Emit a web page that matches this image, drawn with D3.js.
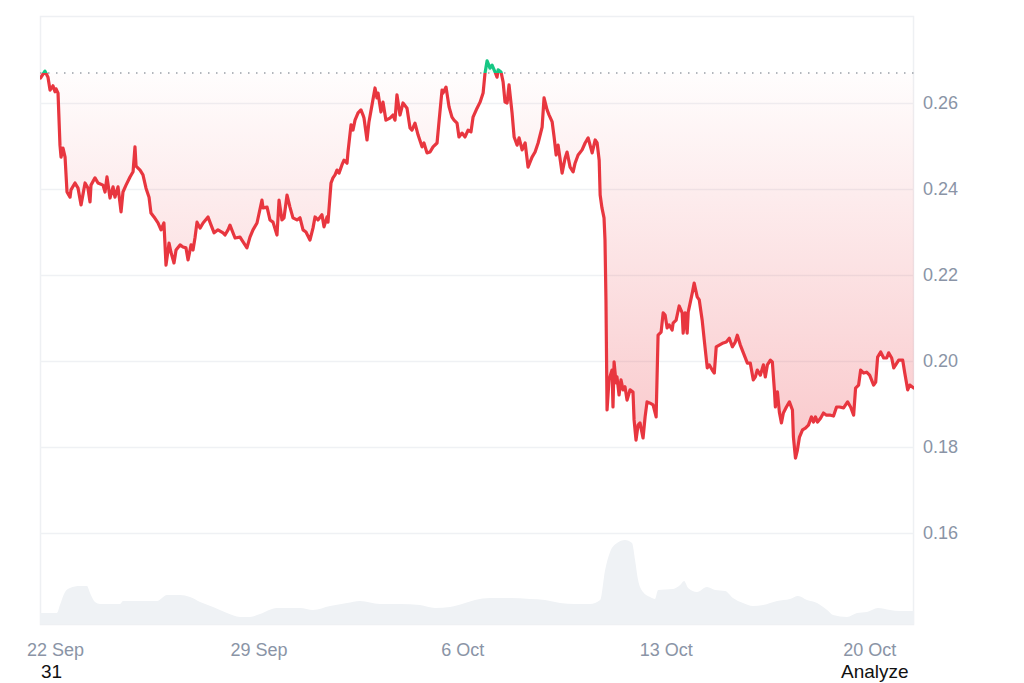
<!DOCTYPE html>
<html><head><meta charset="utf-8">
<script src="https://cdn.jsdelivr.net/npm/d3@7"></script>
<style>
body{margin:0;background:#fff}
svg text{font-family:"Liberation Sans",Arial,Helvetica,sans-serif}
</style>
</head><body>
<svg id="chart" width="1024" height="683"></svg>
<script>
// ---------- data ----------
const seriesStart = new Date(2025, 8, 21, 12, 0);   // hour 0 of the series
const domainStart = new Date(2025, 8, 21, 11, 37);
const domainEnd   = new Date(2025, 9, 21, 12, 55);
const referencePrice = 0.267;
const yTicks = [0.16, 0.18, 0.20, 0.22, 0.24, 0.26];
const xTickDates = [new Date(2025,8,22), new Date(2025,8,29), new Date(2025,9,6), new Date(2025,9,13), new Date(2025,9,20)];
const xTickLabels = ["22 Sep", "29 Sep", "6 Oct", "13 Oct", "20 Oct"];
const yDomain = [0.138837, 0.280233];

const priceHours = [
0.0,3.7,6.2,7.9,10.3,12.0,12.8,14.5,16.1,17.0,
18.6,20.3,21.9,24.4,25.2,28.5,31.0,33.5,36.8,39.2,
40.9,41.7,45.0,47.5,51.6,53.3,54.9,57.4,59.9,61.5,
64.0,66.5,68.1,70.6,73.9,76.4,78.0,78.9,82.2,84.6,
87.1,89.6,91.2,93.7,97.0,99.5,101.9,103.6,106.1,107.7,
110.2,111.9,115.2,117.6,120.1,121.8,124.3,125.9,127.6,129.2,
131.7,134.2,138.3,140.8,143.3,146.5,150.7,152.3,154.8,156.4,
160.6,164.7,167.2,170.4,172.9,175.4,178.7,182.8,183.7,187.0,
189.4,191.9,195.2,196.9,199.3,201.0,203.5,205.9,208.4,211.7,
214.2,216.7,219.1,222.4,224.9,226.6,229.0,232.3,234.0,236.5,
237.3,239.8,241.4,243.1,244.7,246.4,248.8,250.5,253.0,253.8,
256.3,257.9,259.6,262.1,264.5,266.2,267.0,269.5,271.1,273.6,
276.1,277.7,278.6,281.0,282.7,285.1,288.4,290.9,292.6,294.2,
296.7,299.2,302.5,305.0,306.6,309.1,311.6,314.9,316.5,319.0,
321.5,324.0,327.3,328.9,331.4,332.2,334.7,337.2,339.6,341.3,
343.8,345.4,347.9,350.4,352.9,355.3,357.0,360.3,362.8,365.3,
366.9,368.6,371.0,372.7,375.2,376.8,377.7,380.1,381.8,383.4,
385.1,386.7,389.2,390.9,393.4,395.0,397.5,400.0,402.4,405.7,
408.2,410.7,414.0,415.6,418.1,419.8,422.3,423.9,425.6,427.2,
430.5,433.0,434.6,437.1,439.6,441.2,443.7,447.0,449.5,452.0,
455.3,457.8,459.4,461.1,461.9,463.4,465.1,465.9,466.7,467.6,
469.2,471.7,472.5,473.4,475.0,475.8,477.5,479.1,480.8,482.4,
484.1,486.6,489.0,489.9,491.5,493.2,494.8,497.3,499.0,500.6,
503.1,505.6,508.1,509.7,512.2,513.9,515.5,517.2,518.8,521.3,
522.1,524.6,525.5,527.1,529.6,530.4,532.1,533.7,534.6,536.2,
537.9,539.5,542.0,543.7,546.1,547.8,550.3,551.9,554.4,556.1,
557.7,560.2,563.5,566.0,568.5,571.0,573.4,575.1,577.6,580.1,
583.4,585.8,588.3,590.0,591.6,594.1,596.6,598.2,599.9,602.4,
604.0,605.7,606.5,608.2,609.8,611.5,613.1,615.6,618.1,620.6,
621.4,623.1,624.7,626.4,628.9,631.3,633.8,636.3,638.0,639.6,
641.3,643.8,646.2,648.7,652.0,654.5,657.0,659.5,662.8,666.1,
668.6,671.1,672.7,675.2,676.9,679.4,681.8,684.3,687.6,689.3,
690.9,693.4,695.9,698.4,700.0,702.5,704.2,705.8,708.3,711.6,
713.3,715.7,717.4,720.7];

const prices = [
0.2658,0.2674,0.2660,0.2630,0.2640,0.2626,0.2633,0.2623,0.2502,0.2474,
0.2495,0.2474,0.2393,0.2381,0.2398,0.2414,0.2402,0.2363,0.2414,0.2402,
0.2370,0.2409,0.2426,0.2414,0.2409,0.2393,0.2428,0.2379,0.2405,0.2381,
0.2405,0.2347,0.2393,0.2409,0.2428,0.2440,0.2498,0.2453,0.2444,0.2433,
0.2402,0.2381,0.2344,0.2335,0.2321,0.2305,0.2321,0.2223,0.2274,0.2253,
0.2228,0.2258,0.2270,0.2265,0.2263,0.2235,0.2270,0.2258,0.2288,0.2323,
0.2309,0.2321,0.2335,0.2316,0.2298,0.2305,0.2298,0.2293,0.2305,0.2316,
0.2286,0.2288,0.2277,0.2263,0.2288,0.2305,0.2321,0.2374,0.2356,0.2358,
0.2328,0.2323,0.2293,0.2374,0.2328,0.2333,0.2386,0.2358,0.2333,0.2328,
0.2333,0.2305,0.2300,0.2281,0.2309,0.2335,0.2328,0.2340,0.2312,0.2335,
0.2323,0.2414,0.2426,0.2433,0.2444,0.2437,0.2456,0.2467,0.2460,0.2486,
0.2549,0.2537,0.2560,0.2577,0.2584,0.2572,0.2565,0.2514,0.2556,0.2595,
0.2635,0.2612,0.2623,0.2579,0.2602,0.2560,0.2565,0.2572,0.2560,0.2619,
0.2572,0.2600,0.2588,0.2542,0.2537,0.2553,0.2526,0.2498,0.2507,0.2484,
0.2486,0.2498,0.2507,0.2556,0.2630,0.2623,0.2637,0.2591,0.2567,0.2560,
0.2553,0.2521,0.2530,0.2521,0.2537,0.2533,0.2567,0.2588,0.2602,0.2623,
0.2670,0.2698,0.2681,0.2688,0.2672,0.2660,0.2677,0.2672,0.2649,0.2602,
0.2600,0.2642,0.2577,0.2521,0.2502,0.2519,0.2491,0.2507,0.2451,0.2474,
0.2486,0.2507,0.2544,0.2612,0.2584,0.2572,0.2556,0.2521,0.2479,0.2502,
0.2437,0.2472,0.2486,0.2451,0.2440,0.2460,0.2479,0.2491,0.2507,0.2519,
0.2484,0.2514,0.2507,0.2467,0.2386,0.2356,0.2333,0.2281,0.2142,0.1886,
0.1956,0.1979,0.1893,0.1998,0.1949,0.1963,0.1921,0.1956,0.1933,0.1940,
0.1909,0.1933,0.1928,0.1863,0.1816,0.1851,0.1856,0.1821,0.1870,0.1905,
0.1902,0.1898,0.1870,0.2060,0.2067,0.2112,0.2107,0.2077,0.2084,0.2072,
0.2088,0.2095,0.2107,0.2128,0.2112,0.2065,0.2112,0.2065,0.2114,0.2135,
0.2158,0.2181,0.2149,0.2142,0.2095,0.2049,0.1984,0.1991,0.1979,0.1972,
0.2033,0.2037,0.2042,0.2044,0.2053,0.2033,0.2044,0.2060,0.2037,0.2019,
0.1995,0.1995,0.1956,0.1963,0.1979,0.1967,0.1991,0.1963,0.1991,0.2002,
0.1998,0.1933,0.1893,0.1928,0.1881,0.1856,0.1879,0.1893,0.1905,0.1886,
0.1823,0.1774,0.1793,0.1823,0.1840,0.1844,0.1851,0.1870,0.1858,0.1870,
0.1858,0.1867,0.1879,0.1874,0.1874,0.1872,0.1893,0.1893,0.1891,0.1905,
0.1893,0.1874,0.1937,0.1944,0.1979,0.1972,0.1974,0.1967,0.1944,0.1951,
0.2009,0.2021,0.2007,0.2007,0.2019,0.2007,0.1984,0.1991,0.2002,0.2002,
0.1972,0.1933,0.1944,0.1937];

const volumeHours = [
-0.4,13.6,16.1,20.3,24.4,32.6,38.4,40.9,45.0,49.2,
65.7,68.1,96.2,104.4,115.2,123.4,131.7,142.4,153.9,164.7,
172.9,181.2,195.2,214.2,224.9,239.0,253.0,263.7,280.2,296.7,
313.2,325.6,338.0,350.4,358.6,371.0,387.5,404.0,416.4,428.8,
441.2,453.5,461.9,466.0,470.1,475.8,482.4,488.2,490.7,493.2,
497.3,503.1,507.2,509.7,522.1,527.9,531.2,534.5,541.8,550.1,
556.7,565.0,571.5,579.8,588.1,596.4,607.9,618.6,625.2,632.6,
640.9,649.2,654.1,665.6,673.9,682.1,691.2,701.1,709.4,719.3,721.0];
const volumes = [
11,11,19,32,36,38,38,31,22,20,
20,23,23,29,29,27,22,17,11,7,
7,10,16,16,14,18,21,23,20,20,
19,16,17,21,24,26,26,25,24,21,
20,20,24,54,72,81,84,81,64,44,
32,27,25,34,35,39,43,36,32,37,
34,33,26,21,18,19,23,25,28,24,
21,14,9,7,11,12,16,14,13,13,13];

// ---------- layout ----------
const plot = {left: 40, right: 914, top: 16, bottom: 624};
const volTop = 524;

const toDate = h => new Date(seriesStart.getTime() + h * 3600e3);
const priceData = priceHours.map((h, i) => ({t: toDate(h), p: prices[i]}));
const volData = volumeHours.map((h, i) => ({t: toDate(h), v: volumes[i]}));

const svg = d3.select("#chart");
const x = d3.scaleTime().domain([domainStart, domainEnd]).range([plot.left, plot.right]);
const y = d3.scaleLinear().domain(yDomain).range([plot.bottom, plot.top]);
const yVol = d3.scaleLinear().domain([0, 100]).range([plot.bottom, volTop]);

const defs = svg.append("defs");
const refY = y(referencePrice);
const minY = y(d3.min(prices));

const gRed = defs.append("linearGradient").attr("id", "gRed")
  .attr("gradientUnits", "userSpaceOnUse").attr("x1", 0).attr("x2", 0)
  .attr("y1", refY).attr("y2", minY);
gRed.append("stop").attr("offset", "0%").attr("stop-color", "#ea3943").attr("stop-opacity", 0.01);
gRed.append("stop").attr("offset", "100%").attr("stop-color", "#ea3943").attr("stop-opacity", 0.28);

const gGreen = defs.append("linearGradient").attr("id", "gGreen")
  .attr("gradientUnits", "userSpaceOnUse").attr("x1", 0).attr("x2", 0)
  .attr("y1", y(d3.max(prices))).attr("y2", refY);
gGreen.append("stop").attr("offset", "0%").attr("stop-color", "#16c784").attr("stop-opacity", 0.25);
gGreen.append("stop").attr("offset", "100%").attr("stop-color", "#16c784").attr("stop-opacity", 0.02);

defs.append("clipPath").attr("id", "below").append("rect")
  .attr("x", plot.left).attr("y", refY).attr("width", plot.right - plot.left).attr("height", plot.bottom - refY);
defs.append("clipPath").attr("id", "above").append("rect")
  .attr("x", plot.left).attr("y", plot.top - 10).attr("width", plot.right - plot.left).attr("height", refY - plot.top + 10);

// plot frame
svg.append("rect").attr("x", plot.left + 0.5).attr("y", plot.top + 0.5)
  .attr("width", plot.right - plot.left - 1).attr("height", plot.bottom - plot.top)
  .attr("fill", "#fff").attr("stroke", "#eef0f3").attr("stroke-width", 1.5);

// gridlines
svg.append("g").selectAll("line").data(yTicks).join("line")
  .attr("x1", plot.left).attr("x2", plot.right)
  .attr("y1", d => Math.round(y(d)) + 0.5).attr("y2", d => Math.round(y(d)) + 0.5)
  .attr("stroke", "#eff1f4").attr("stroke-width", 1.5);

// volume
svg.append("path").datum(volData)
  .attr("d", d3.area().x(d => x(d.t)).y0(plot.bottom).y1(d => yVol(d.v)).curve(d3.curveMonotoneX))
  .attr("fill", "#eff2f5");

// price area fills
const area = d3.area().x(d => x(d.t)).y0(refY).y1(d => y(d.p)).curve(d3.curveLinear);
svg.append("path").datum(priceData).attr("d", area).attr("fill", "url(#gRed)").attr("clip-path", "url(#below)");
svg.append("path").datum(priceData).attr("d", area).attr("fill", "url(#gGreen)").attr("clip-path", "url(#above)");

// reference dotted line
svg.append("line").attr("x1", plot.left).attr("x2", plot.right)
  .attr("y1", refY).attr("y2", refY)
  .attr("stroke", "#9aa0a8").attr("stroke-width", 1.5).attr("stroke-dasharray", "1.5,6.5");

// price line
const line = d3.line().x(d => x(d.t)).y(d => y(d.p)).curve(d3.curveLinear);
svg.append("path").datum(priceData).attr("d", line)
  .attr("fill", "none").attr("stroke", "#e8363f").attr("stroke-width", 3.2)
  .attr("stroke-linejoin", "round").attr("stroke-linecap", "round").attr("clip-path", "url(#below)");
svg.append("path").datum(priceData).attr("d", line)
  .attr("fill", "none").attr("stroke", "#16c784").attr("stroke-width", 3.2)
  .attr("stroke-linejoin", "round").attr("stroke-linecap", "round").attr("clip-path", "url(#above)");

// y axis (right)
const yAxis = d3.axisRight(y).tickValues(yTicks).tickFormat(d3.format(".2f")).tickSize(0).tickPadding(9);
const gy = svg.append("g").attr("transform", `translate(${plot.right},0)`).call(yAxis);
gy.select(".domain").remove();
gy.selectAll("text").attr("font-size", 18).attr("fill", "#8a94a6")
  .attr("font-family", '"Liberation Sans",Arial,sans-serif');

// x axis
const xAxis = d3.axisBottom(x).tickValues(xTickDates).tickFormat((d, i) => xTickLabels[i]).tickSize(0).tickPadding(19);
const gx = svg.append("g").attr("transform", `translate(0,${plot.bottom})`).call(xAxis);
gx.select(".domain").remove();
gx.selectAll("text").attr("font-size", 18).attr("fill", "#8a94a6")
  .attr("font-family", '"Liberation Sans",Arial,sans-serif');

// stray page texts
svg.append("text").attr("x", 41).attr("y", 678).attr("font-size", 19).attr("fill", "#111").text("31");
svg.append("text").attr("x", 841).attr("y", 678).attr("font-size", 19).attr("fill", "#111").text("Analyze");
</script>
</body></html>
